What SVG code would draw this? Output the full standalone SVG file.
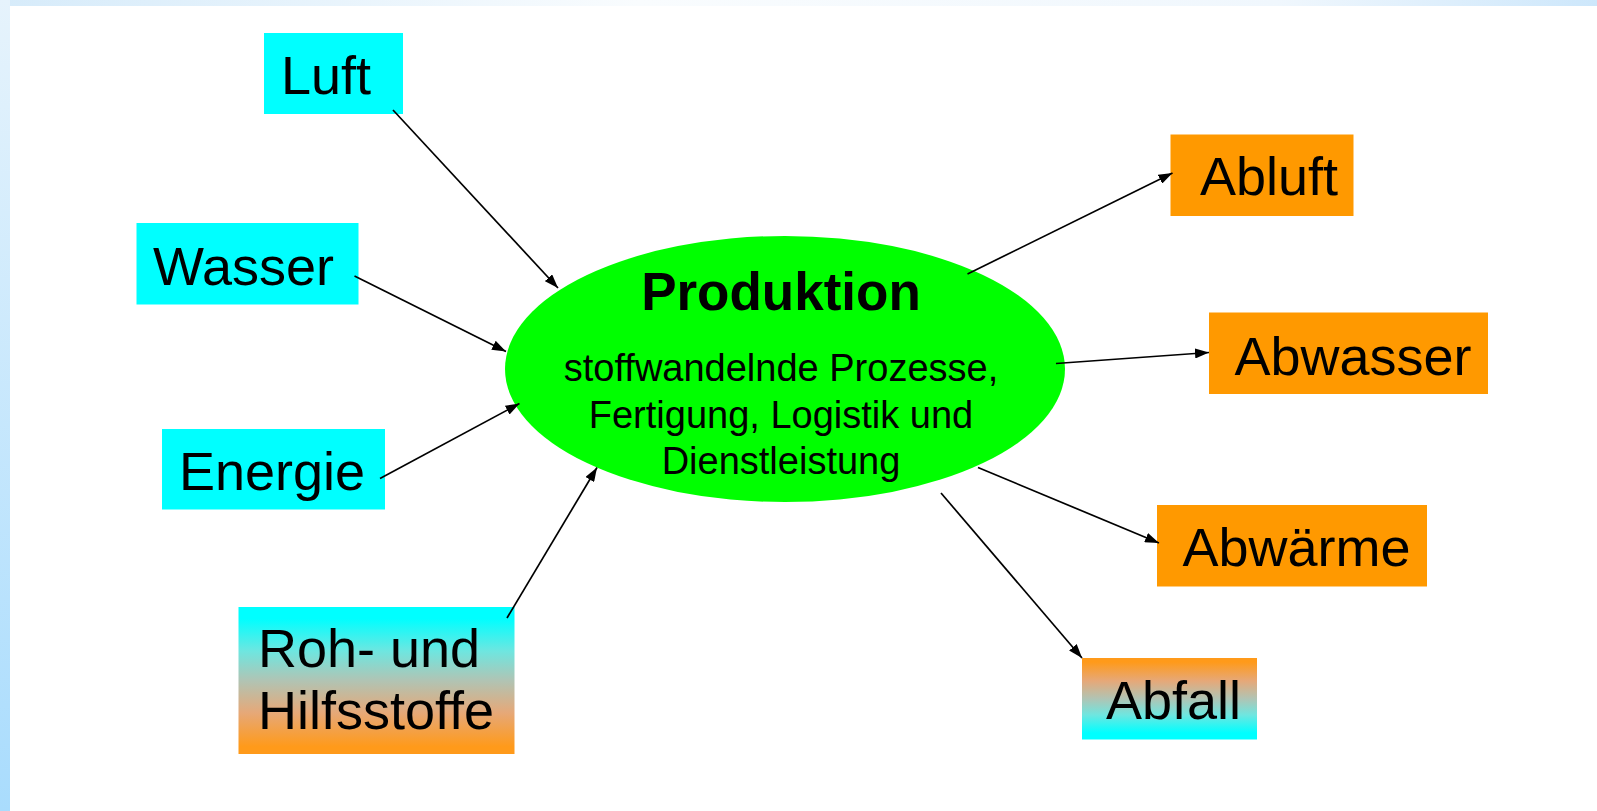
<svg xmlns="http://www.w3.org/2000/svg" width="1597" height="811" viewBox="0 0 1597 811">
  <defs>
    <linearGradient id="topBand" x1="0" y1="0" x2="1" y2="0">
      <stop offset="0" stop-color="#d6ebfa"/>
      <stop offset="0.4" stop-color="#f9fcfe"/>
      <stop offset="0.8" stop-color="#f0f7fd"/>
      <stop offset="1" stop-color="#cde7fb"/>
    </linearGradient>
    <linearGradient id="leftBand" x1="0" y1="0" x2="0" y2="1">
      <stop offset="0" stop-color="#e6f3fc"/>
      <stop offset="1" stop-color="#a9dcfd"/>
    </linearGradient>
    <linearGradient id="cyanOrange" x1="0" y1="0" x2="0" y2="1">
      <stop offset="0.08" stop-color="#00ffff"/>
      <stop offset="0.3" stop-color="#6ee6e0"/>
      <stop offset="0.5" stop-color="#b0c4b4"/>
      <stop offset="0.72" stop-color="#e6a878"/>
      <stop offset="0.95" stop-color="#ff9a1a"/>
    </linearGradient>
    <linearGradient id="orangeCyan" x1="0" y1="0" x2="0" y2="1">
      <stop offset="0.05" stop-color="#ff9a1a"/>
      <stop offset="0.28" stop-color="#e6a878"/>
      <stop offset="0.5" stop-color="#b0c4b4"/>
      <stop offset="0.7" stop-color="#6ee6e0"/>
      <stop offset="0.92" stop-color="#00ffff"/>
    </linearGradient>
    <marker id="arrow" viewBox="0 0 14 10" refX="14" refY="5" markerWidth="14" markerHeight="10" markerUnits="userSpaceOnUse" orient="auto">
      <path d="M0,0 L14,5 L0,10 Z" fill="#000"/>
    </marker>
  </defs>
  <style>
    .in { fill: #00ffff; }
    .out { fill: #ff9900; }
    .lbl { font-family: "Liberation Sans", Arial, sans-serif; font-size: 54px; fill: #000; }
    .title { font-family: "Liberation Sans", Arial, sans-serif; font-size: 53px; font-weight: bold; fill: #000; text-anchor: middle; }
    .sub { font-family: "Liberation Sans", Arial, sans-serif; font-size: 38px; fill: #000; text-anchor: middle; }
    .conn line { stroke: #000; stroke-width: 1.7; marker-end: url(#arrow); }
  </style>

  <rect x="0" y="0" width="1597" height="811" fill="#ffffff"/>
  <rect x="0" y="0" width="1597" height="6" fill="url(#topBand)"/>
  <rect x="0" y="0" width="10" height="811" fill="url(#leftBand)"/>

  <g id="produktion">
    <ellipse cx="785" cy="369" rx="280" ry="133" fill="#00ff00"/>
    <text class="title" x="781" y="310">Produktion</text>
    <text class="sub" x="781" y="381">stoffwandelnde Prozesse,</text>
    <text class="sub" x="781" y="428">Fertigung, Logistik und</text>
    <text class="sub" x="781" y="474">Dienstleistung</text>
  </g>

  <g id="luft">
    <rect class="in" x="264" y="33" width="139" height="81"/>
    <text class="lbl" x="281" y="94">Luft</text>
  </g>
  <g id="wasser">
    <rect class="in" x="136.5" y="223" width="222" height="81.5"/>
    <text class="lbl" x="153" y="285">Wasser</text>
  </g>
  <g id="energie">
    <rect class="in" x="162" y="429" width="223" height="80.5"/>
    <text class="lbl" x="179" y="490">Energie</text>
  </g>
  <g id="rohstoffe">
    <rect x="238.5" y="607" width="276" height="147" fill="url(#cyanOrange)"/>
    <text class="lbl" x="258" y="667">Roh- und</text>
    <text class="lbl" x="258" y="729">Hilfsstoffe</text>
  </g>

  <g id="abluft">
    <rect class="out" x="1170.5" y="134.5" width="183" height="81.5"/>
    <text class="lbl" x="1200" y="194.5">Abluft</text>
  </g>
  <g id="abwasser">
    <rect class="out" x="1209" y="312.5" width="279" height="81.5"/>
    <text class="lbl" x="1234.5" y="375">Abwasser</text>
  </g>
  <g id="abwaerme">
    <rect class="out" x="1157" y="505" width="270" height="81.5"/>
    <text class="lbl" x="1182.5" y="565.5">Abwärme</text>
  </g>
  <g id="abfall">
    <rect x="1082" y="658" width="175" height="81.5" fill="url(#orangeCyan)"/>
    <text class="lbl" x="1106" y="719">Abfall</text>
  </g>

  <g id="connectors" class="conn">
    <line x1="393" y1="110" x2="558" y2="288"/>
    <line x1="354.5" y1="276" x2="506" y2="351.5"/>
    <line x1="380" y1="478.5" x2="519.5" y2="403.5"/>
    <line x1="507" y1="618" x2="597" y2="467.5"/>
    <line x1="967.5" y1="274" x2="1172.5" y2="173"/>
    <line x1="1056" y1="363.5" x2="1209" y2="352.5"/>
    <line x1="978" y1="467.5" x2="1159" y2="543"/>
    <line x1="941" y1="493" x2="1082" y2="658"/>
  </g>
</svg>
